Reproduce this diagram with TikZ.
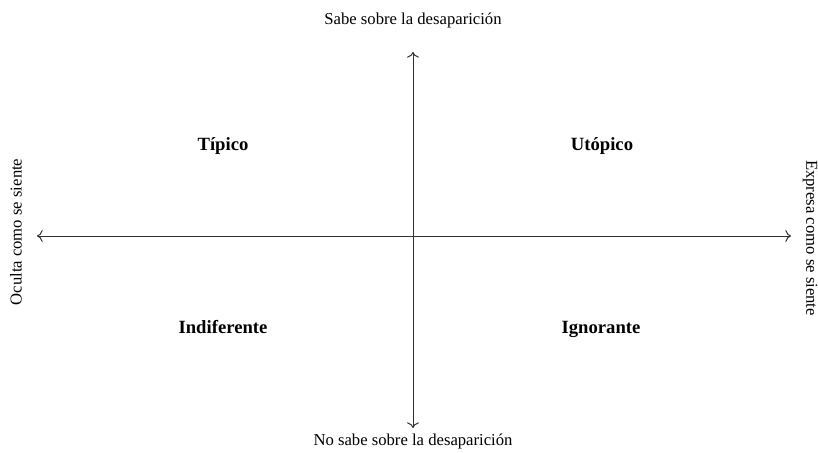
\documentclass[tikz,border=0pt]{standalone}
\usepackage{fontspec}
\setmainfont{Liberation Serif}
\usetikzlibrary{arrows.meta,positioning}
\tikzset{
  quad/.style={anchor=base,font=\fontsize{14}{16}\selectfont\bfseries},
  axislabel/.style={font=\fontsize{12.5}{14}\selectfont,inner sep=0pt}
}
\begin{document}
\begin{tikzpicture}[x=0.75pt,y=-0.75pt,line width=0.75pt,>={To[scale=1.3]}]
\useasboundingbox (0,0) rectangle (818,453);
\coordinate (N) at (413,52);
\coordinate (S) at (413,428);
\coordinate (W) at (37,236);
\coordinate (E) at (791,236);
\draw[black!80,<->] (W) -- (E);
\draw[black!80,<->] (N) -- (S);
\node[axislabel] (sabe) at (413,20) {Sabe sobre la desaparición};
\node[axislabel] (nosabe) at (413,441) {No sabe sobre la desaparición};
\node[axislabel,rotate=90] (oculta) at (16,232) {Oculta como se siente};
\node[axislabel,rotate=-90] (expresa) at (810,238) {Expresa como se siente};
\node[quad] (tipico) at (223,151) {Típico};
\node[quad] (utopico) at (602,151) {Utópico};
\node[quad] (indif) at (223,333) {Indiferente};
\node[quad] (ignor) at (601,333) {Ignorante};
\end{tikzpicture}
\end{document}
